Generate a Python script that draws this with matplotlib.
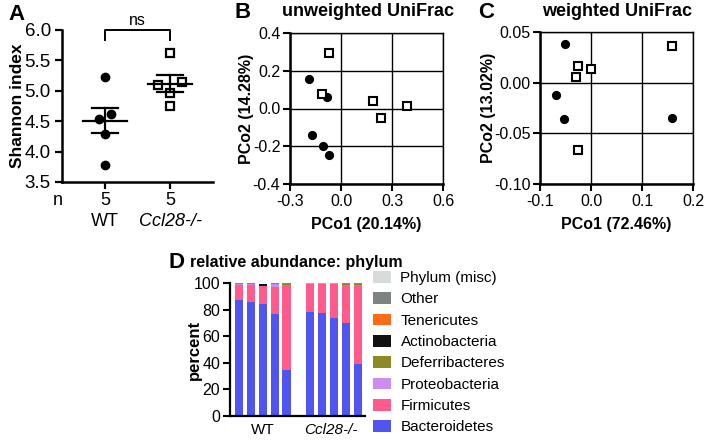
import matplotlib
matplotlib.use("Agg")
import matplotlib.pyplot as plt
from matplotlib.patches import Patch

plt.rcParams['font.family'] = ['Liberation Sans', 'DejaVu Sans']
plt.rcParams['axes.unicode_minus'] = False

# --- panel A: Shannon index ---
groups = ['WT', 'Ccl28-/-']
group_n = ['5', '5']
wt_shannon = [5.22, 4.54, 4.62, 4.29, 3.78]
wt_offset = [0.0, -0.09, 0.09, 0.0, 0.0]
ko_shannon = [5.62, 5.09, 5.14, 4.96, 4.75]
ko_offset = [0.0, -0.19, 0.18, 0.0, 0.0]
shannon_mean = [4.51, 5.12]
shannon_sem = [0.21, 0.145]

# --- panel B: unweighted UniFrac PCoA ---
unw_wt_x = [-0.186, -0.171, -0.081, -0.104, -0.069]
unw_wt_y = [0.158, -0.139, 0.060, -0.199, -0.246]
unw_ko_x = [-0.073, -0.110, 0.185, 0.236, 0.385]
unw_ko_y = [0.293, 0.076, 0.042, -0.049, 0.014]

# --- panel C: weighted UniFrac PCoA ---
w_wt_x = [-0.051, -0.069, -0.054, 0.159]
w_wt_y = [0.038, -0.012, -0.036, -0.035]
w_ko_x = [-0.026, -0.030, 0.000, 0.158, -0.025]
w_ko_y = [0.016, 0.005, 0.013, 0.036, -0.066]

# --- panel D: relative abundance by phylum (5 WT + 5 Ccl28-/- mice) ---
bar_pos = [0, 1, 2, 3, 4, 6, 7, 8, 9, 10]
phyla = ['Bacteroidetes', 'Firmicutes', 'Proteobacteria', 'Deferribacteres',
         'Actinobacteria', 'Tenericutes', 'Other', 'Phylum (misc)']
phylum_colors = ['#4f55ee', '#ff5b8c', '#cc8cf0', '#8c8a22',
                 '#111111', '#ff6a17', '#7d8383', '#d7dbdb']
abundance = {
    'Bacteroidetes':   [87.4, 85.9, 84.4, 76.9, 34.7, 78.6, 77.8, 74.0, 69.8, 39.0],
    'Firmicutes':      [11.6, 13.1, 13.4, 20.1, 63.8, 20.9, 21.7, 25.5, 28.8, 59.6],
    'Proteobacteria':  [0.8, 0.8, 0.4, 2.7, 0.2, 0.4, 0.4, 0.4, 0.2, 0.2],
    'Deferribacteres': [0.0, 0.0, 0.0, 0.1, 1.0, 0.0, 0.0, 0.0, 0.3, 0.9],
    'Actinobacteria':  [0.0, 0.0, 1.4, 0.0, 0.1, 0.0, 0.0, 0.0, 0.1, 0.1],
    'Tenericutes':     [0.0, 0.0, 0.0, 0.0, 0.0, 0.0, 0.0, 0.0, 0.6, 0.0],
    'Other':           [0.1, 0.1, 0.1, 0.1, 0.1, 0.1, 0.1, 0.1, 0.1, 0.1],
    'Phylum (misc)':   [0.1, 0.1, 0.1, 0.1, 0.1, 0.1, 0.1, 0.1, 0.1, 0.1],
}

W, H = 706, 441
fig = plt.figure(figsize=(W / 100, H / 100), dpi=100, facecolor='white')


def rect(left, top, right, bottom):
    return [left / W, 1 - bottom / H, (right - left) / W, (bottom - top) / H]


def letter(x, y, s):
    fig.text(x / W, 1 - y / H, s, fontsize=16, fontweight='bold', ha='left', va='center')


# ---------------- A ----------------
axA = fig.add_axes(rect(62, 30, 213, 182))
axA.plot([i for i in wt_offset], wt_shannon, 'o', color='black', ms=6, clip_on=False)
axA.plot([1 + i for i in ko_offset], ko_shannon, 's', mfc='white', mec='black', mew=1.6,
         ms=6.3, clip_on=False)
for i, (m, s) in enumerate(zip(shannon_mean, shannon_sem)):
    axA.plot([i - 0.34, i + 0.34], [m, m], color='black', lw=1.6)
    axA.plot([i - 0.2, i + 0.2], [m + s, m + s], color='black', lw=1.6)
    axA.plot([i - 0.2, i + 0.2], [m - s, m - s], color='black', lw=1.6)
    axA.plot([i, i], [m - s, m + s], color='black', lw=1.6)
axA.set_xlim(-0.66, 1.66)
axA.set_ylim(3.5, 6.0)
axA.set_yticks([3.5, 4.0, 4.5, 5.0, 5.5, 6.0])
axA.set_yticklabels(['3.5', '4.0', '4.5', '5.0', '5.5', '6.0'])
axA.set_xticks([0, 1])
axA.set_xticklabels(group_n)
axA.tick_params(labelsize=13.5, width=1.6, length=5, pad=3)
axA.tick_params(axis='x', labelsize=13, pad=2)
for sp in ['top', 'right']:
    axA.spines[sp].set_visible(False)
for sp in ['left', 'bottom']:
    axA.spines[sp].set_linewidth(1.8)
axA.set_ylabel('Shannon index', fontsize=12.5, fontweight='bold')
axA.yaxis.set_label_coords(-0.245, 0.5)
# significance bracket
axA.plot([0, 0, 1, 1], [5.84, 6.0, 6.0, 5.84], color='black', lw=1.4, clip_on=False)
axA.text(0.5, 6.04, 'ns', ha='center', va='bottom', fontsize=11.5)
tr = axA.get_xaxis_transform()
axA.text(-0.66 - 0.06, -0.12, 'n', transform=tr, ha='center', va='center', fontsize=13)
axA.text(0, -0.26, groups[0], transform=tr, ha='center', va='center', fontsize=13)
axA.text(1, -0.26, groups[1], transform=tr, ha='center', va='center', fontsize=13,
         style='italic')
letter(8, 14, 'A')


def pcoa_axes(r, xlim, ylim, xt, yt, xfmt, yfmt, title, title_x, xlabel, ylabel, ylx):
    ax = fig.add_axes(r)
    ax.set_xlim(*xlim)
    ax.set_ylim(*ylim)
    ax.set_xticks(xt)
    ax.set_yticks(yt)
    ax.set_xticklabels([xfmt % v for v in xt])
    ax.set_yticklabels([yfmt % v for v in yt])
    ax.grid(True, color='black', lw=1.0)
    ax.set_axisbelow(True)
    ax.tick_params(labelsize=11.5, width=1.5, length=5, pad=2)
    for sp in ['top', 'right']:
        ax.spines[sp].set_linewidth(1.0)
    for sp in ['left', 'bottom']:
        ax.spines[sp].set_linewidth(1.8)
    ax.set_xlabel(xlabel, fontsize=11.5, fontweight='bold')
    ax.xaxis.set_label_coords(0.5, -0.215)
    ax.set_ylabel(ylabel, fontsize=11.5, fontweight='bold')
    ax.yaxis.set_label_coords(ylx, 0.5)
    fig.text(title_x / W, 1 - 12 / H, title, fontsize=13, fontweight='bold',
             ha='center', va='center')
    return ax


# ---------------- B ----------------
axB = pcoa_axes(rect(290, 32.7, 443.3, 184.3), (-0.3, 0.6), (-0.4, 0.4),
                [-0.3, 0.0, 0.3, 0.6], [-0.4, -0.2, 0.0, 0.2, 0.4], '%.1f', '%.1f',
                'unweighted UniFrac', 368, 'PCo1 (20.14%)', 'PCo2 (14.28%)', -0.235)
axB.plot(unw_wt_x, unw_wt_y, 'o', color='black', ms=5.6, zorder=3)
axB.plot(unw_ko_x, unw_ko_y, 's', mfc='white', mec='black', mew=1.5, ms=6.2, zorder=3)
letter(234, 13, 'B')

# ---------------- C ----------------
axC = pcoa_axes(rect(540, 31.7, 693.3, 184.3), (-0.1, 0.2), (-0.10, 0.05),
                [-0.1, 0.0, 0.1, 0.2], [-0.10, -0.05, 0.0, 0.05], '%.1f', '%.2f',
                'weighted UniFrac', 617, 'PCo1 (72.46%)', 'PCo2 (13.02%)', -0.285)
axC.plot(w_wt_x, w_wt_y, 'o', color='black', ms=5.6, zorder=3)
axC.plot(w_ko_x, w_ko_y, 's', mfc='white', mec='black', mew=1.5, ms=6.2, zorder=3)
letter(478, 13, 'C')

# ---------------- D ----------------
axD = fig.add_axes(rect(230, 283.3, 365, 416))
bottom = [0.0] * len(bar_pos)
handles = []
for name, col in zip(phyla, phylum_colors):
    vals = abundance[name]
    axD.bar(bar_pos, vals, bottom=bottom, width=0.68, color=col, linewidth=0)
    bottom = [b + v for b, v in zip(bottom, vals)]
    handles.append(Patch(facecolor=col, edgecolor='none', label=name))
axD.set_xlim(-0.75, 10.6)
axD.set_ylim(0, 100)
axD.set_yticks([0, 20, 40, 60, 80, 100])
axD.set_xticks([])
axD.tick_params(labelsize=11.5, width=1.5, length=5, pad=2)
for sp in ['top', 'right']:
    axD.spines[sp].set_visible(False)
for sp in ['left', 'bottom']:
    axD.spines[sp].set_linewidth(1.6)
axD.set_ylabel('percent', fontsize=12, fontweight='bold')
axD.yaxis.set_label_coords(-0.205, 0.5)
trD = axD.get_xaxis_transform()
axD.text(2, -0.105, groups[0], transform=trD, ha='center', va='center', fontsize=11)
axD.text(7.7, -0.105, groups[1], transform=trD, ha='center', va='center', fontsize=11,
         style='italic')
fig.text(190 / W, 1 - 262 / H, 'relative abundance: phylum', fontsize=11.5,
         fontweight='bold', ha='left', va='center')
axD.legend(handles=handles[::-1], loc='upper left', bbox_to_anchor=(373 / W, 1 - 271 / H),
           bbox_transform=fig.transFigure, frameon=False, fontsize=11,
           handlelength=1.2, handleheight=0.8, handletextpad=0.6, labelspacing=0.47,
           borderpad=0, borderaxespad=0)
letter(168, 262, 'D')

fig.savefig('out.png', dpi=100, facecolor='white')
